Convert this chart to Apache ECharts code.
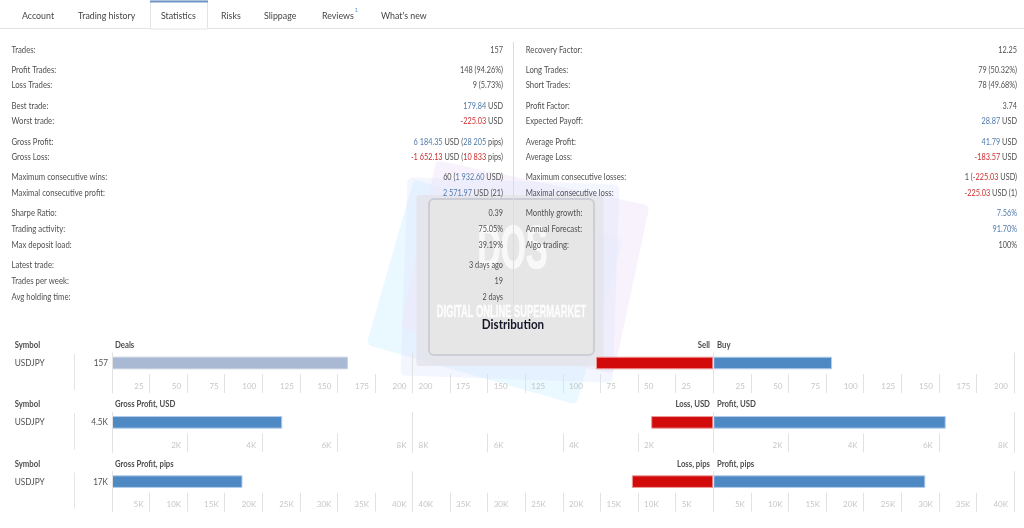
<!DOCTYPE html>
<html>
<head>
<meta charset="utf-8">
<title>Statistics</title>
<script src="https://cdn.jsdelivr.net/npm/echarts@6/dist/echarts.min.js"></script>
<style>
  html, body { margin: 0; padding: 0; background: #fff; }
  #main { width: 1024px; height: 528px; filter: blur(0.3px); }
</style>
</head>
<body>
<div id="main"></div>
<script>
// tab strip
var tabNames = ['Account', 'Trading history', 'Statistics', 'Risks', 'Slippage', 'Reviews', "What's new"];

// statistics table, {b|..} = blue value, {r|..} = red value
var leftLabels = ['Trades:', 'Profit Trades:', 'Loss Trades:', 'Best trade:', 'Worst trade:', 'Gross Profit:', 'Gross Loss:',
  'Maximum consecutive wins:', 'Maximal consecutive profit:', 'Sharpe Ratio:', 'Trading activity:', 'Max deposit load:',
  'Latest trade:', 'Trades per week:', 'Avg holding time:'];
var leftValues = ['157', '148 (94.26%)', '9 (5.73%)', '{b|179.84} USD', '{r|-225.03} USD',
  '{b|6 184.35} USD ({b|28 205} pips)', '{r|-1 652.13} USD ({r|10 833} pips)',
  '60 ({b|1 932.60} USD)', '{b|2 571.97} USD (21)', '0.39', '75.05%', '39.19%', '3 days ago', '19', '2 days'];
var rightLabels = ['Recovery Factor:', 'Long Trades:', 'Short Trades:', 'Profit Factor:', 'Expected Payoff:', 'Average Profit:', 'Average Loss:',
  'Maximum consecutive losses:', 'Maximal consecutive loss:', 'Monthly growth:', 'Annual Forecast:', 'Algo trading:'];
var rightValues = ['12.25', '79 (50.32%)', '78 (49.68%)', '3.74', '{b|28.87} USD', '{b|41.79} USD', '{r|-183.57} USD',
  '1 ({r|-225.03} USD)', '{r|-225.03} USD (1)', '{b|7.56%}', '{b|91.70%}', '100%'];

// distribution charts
var symbols = ['USDJPY', ''];
var totalValues = [157, 4532.22, 17372];
var totalLabels = ['157', '4.5K', '17K'];
var sellLossValues = [78, 1652.13, 10833];
var buyProfitValues = [79, 6184.35, 28205];
var totalTitles = ['Deals', 'Gross Profit, USD', 'Gross Profit, pips'];
var sellTitles = ['Sell', 'Loss, USD', 'Loss, pips'];
var buyTitles = ['Buy', 'Profit, USD', 'Profit, pips'];
var axisMax = [200, 8000, 40000];
var axisStep = [25, 2000, 5000];

// layout
var rowY = [50, 70, 85.7, 106, 121.7, 142, 157.7, 177.7, 193.7, 213.7, 229.3, 245.3, 265.7, 281.3, 297.3];
var tabX = [22, 78, 161, 221, 264, 322, 381];
var chartTop = [353, 412.3, 471.6];
var chartBottom = [393, 452.5, 511.7];
var titleY = [345.7, 404.7, 464];
var panelX = [[112, 412.5], [412.5, 713.3], [713.3, 1014]];

var FONT = 'Lato, sans-serif';
var TEXT = '#505050';
var BLUE = '#4f79ab';
var RED = '#cc2f2f';
var TICK = '#e2e2e2';

var graphics = [];

function addText(x, y, str, size, color, align, weight, sx) {
  graphics.push({
    type: 'text', x: x, y: y, z: 20, scaleX: sx || 1,
    style: {
      text: str, fill: color, align: align || 'left', verticalAlign: 'middle',
      font: (weight || 'normal') + ' ' + size + 'px ' + FONT,
      rich: {
        b: { fill: BLUE, font: 'normal ' + size + 'px ' + FONT },
        r: { fill: RED, font: 'normal ' + size + 'px ' + FONT }
      }
    }
  });
}

function addLine(x1, y1, x2, y2, color, width, z) {
  graphics.push({
    type: 'line', z: z || 5,
    shape: { x1: x1, y1: y1, x2: x2, y2: y2 },
    style: { stroke: color, lineWidth: width || 1 }
  });
}

function addCard(cx, cy, w, h, deg, fill, r) {
  graphics.push({
    type: 'rect', x: cx, y: cy, rotation: deg * Math.PI / 180, z: 1,
    shape: { x: -w / 2, y: -h / 2, width: w, height: h, r: r },
    style: { fill: fill }
  });
}

// tabs
graphics.push({ type: 'rect', z: 4, shape: { x: 150.5, y: 1, width: 57, height: 28 }, style: { fill: '#fff', stroke: '#e4e4e4' } });
addLine(0, 28.5, 150.5, 28.5, '#e3e3e3');
addLine(207.5, 28.5, 1024, 28.5, '#e3e3e3');
addLine(150, 1.5, 208, 1.5, '#6f93c6', 2, 6);
tabNames.forEach(function (name, i) {
  addText(tabX[i], 16, name, 9.8, '#454545', 'left', 'normal', 0.9);
});
addText(354.5, 10, '1', 6.5, '#6fa0d8');

// watermark behind the table text
addCard(495, 292, 218, 172, -16, 'rgba(232,247,255,0.9)', 5);
addCard(525, 267, 218, 172, -12, 'rgba(243,236,250,0.7)', 5);
addCard(510, 280, 212, 198, -2, 'rgba(226,230,255,0.4)', 5);
addCard(510, 280.5, 187, 171, 0, 'rgba(228,228,234,0.85)', 3);
graphics.push({
  type: 'rect', z: 1,
  shape: { x: 429, y: 199, width: 165, height: 156, r: 5 },
  style: { fill: '#e6e6e6', stroke: '#cdcdd5', lineWidth: 2 }
});
graphics.push({
  type: 'text', x: 512.5, y: 251, z: 11, scaleX: 0.52,
  style: { text: 'DOS', fill: 'rgba(255,255,255,0.7)', stroke: 'rgba(255,255,255,0.5)', lineWidth: 1.5, align: 'center', verticalAlign: 'middle', font: 'bold 62px "Liberation Sans"' }
});
graphics.push({
  type: 'text', x: 511.5, y: 312.5, z: 11, scaleX: 0.55,
  style: { text: 'DIGITAL ONLINE SUPERMARKET', fill: 'rgba(255,255,255,0.85)', stroke: 'rgba(255,255,255,0.5)', lineWidth: 0.8, align: 'center', verticalAlign: 'middle', font: 'bold 17px "Liberation Sans"' }
});
graphics.push({
  type: 'text', x: 513, y: 324.6, z: 21, scaleX: 0.93,
  style: { text: 'Distribution', fill: '#17172a', align: 'center', verticalAlign: 'middle', font: 'bold 12.5px ' + FONT }
});

// table
addLine(513.5, 42, 513.5, 304, '#dcdcdc', 1, 15);
leftLabels.forEach(function (label, i) {
  addText(11.5, rowY[i], label, 8.6, TEXT, 'left', 'normal', 0.9);
  addText(503, rowY[i], leftValues[i], 8.6, TEXT, 'right', 'normal', 0.85);
});
rightLabels.forEach(function (label, i) {
  addText(525.7, rowY[i], label, 8.6, TEXT, 'left', 'normal', 0.9);
  addText(1017, rowY[i], rightValues[i], 8.6, TEXT, 'right', 'normal', 0.85);
});

var grids = [], xAxes = [], yAxes = [], series = [];

function addPanel(row, col, value, color, edge, inverse) {
  var idx = grids.length;
  grids.push({
    left: panelX[col][0], right: 1024 - panelX[col][1],
    top: chartTop[row], height: chartBottom[row] - chartTop[row]
  });
  xAxes.push({
    type: 'value', gridIndex: idx, min: 0, max: axisMax[row], interval: axisStep[row], inverse: inverse, z: 3,
    axisLine: { show: false },
    splitLine: { show: false },
    axisTick: { show: true, inside: true, length: 19, lineStyle: { color: TICK } },
    axisLabel: {
      inside: true, margin: 3, fontSize: 8, color: '#c6c6c6', fontFamily: FONT,
      align: inverse ? 'left' : 'right',
      padding: inverse ? [0, 0, 0, 6] : [0, 6, 0, 0],
      formatter: function (v) {
        if (v === 0) return '';
        return v >= 1000 ? (v / 1000) + 'K' : String(v);
      }
    }
  });
  yAxes.push({
    type: 'category', gridIndex: idx, data: symbols, inverse: true, position: 'left', z: 3,
    axisLine: { show: true, onZero: false, lineStyle: { color: TICK } },
    axisTick: { show: false },
    axisLabel: { show: false }
  });
  series.push({
    type: 'bar', xAxisIndex: idx, yAxisIndex: yAxes.length - 1,
    data: [value], barWidth: 12.6, silent: true, z: 2,
    itemStyle: { color: color, borderColor: edge, borderWidth: 1 }
  });
}

for (var r = 0; r < totalValues.length; r++) {
  addPanel(r, 0, totalValues[r], r === 0 ? '#a9b9d3' : '#4e89c4', r === 0 ? '#c4d0e2' : '#b5cdea', false);
  addPanel(r, 1, sellLossValues[r], '#d20a0a', '#ec9a9a', true);
  addPanel(r, 2, buyProfitValues[r], '#4e89c4', '#b5cdea', false);
  // far edge of the right hand panel
  yAxes.push({
    type: 'category', gridIndex: grids.length - 1, data: symbols, inverse: true, position: 'right', z: 3,
    axisLine: { show: true, onZero: false, lineStyle: { color: TICK } },
    axisTick: { show: false }, axisLabel: { show: false }
  });

  addLine(74.5, chartTop[r] + 1, 74.5, chartBottom[r] - 3, '#e4e4e4', 1);
  addText(14.7, titleY[r], 'Symbol', 8.6, '#4d4d4d', 'left', 'bold', 0.9);
  addText(14.7, chartTop[r] + 10, symbols[0], 9.6, TEXT, 'left', 'normal', 0.86);
  addText(108, chartTop[r] + 10, totalLabels[r], 9.6, TEXT, 'right', 'normal', 0.85);
  addText(115, titleY[r], totalTitles[r], 8.6, '#4d4d4d', 'left', 'bold', 0.9);
  addText(710, titleY[r], sellTitles[r], 8.6, '#4d4d4d', 'right', 'bold', 0.9);
  addText(717, titleY[r], buyTitles[r], 8.6, '#4d4d4d', 'left', 'bold', 0.9);
}

var chart = echarts.init(document.getElementById('main'));
chart.setOption({
  animation: false,
  backgroundColor: '#fff',
  grid: grids,
  xAxis: xAxes,
  yAxis: yAxes,
  series: series,
  graphic: { elements: graphics }
});
</script>
</body>
</html>
